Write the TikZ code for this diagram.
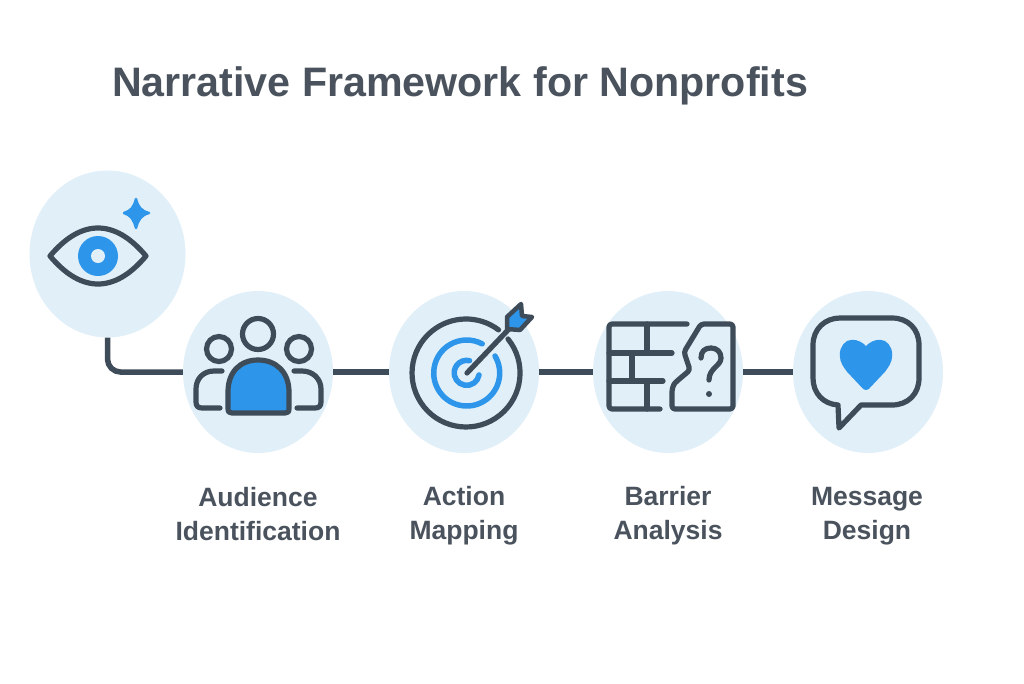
\documentclass[tikz,border=0pt]{standalone}
\usepackage{fontspec}
\setmainfont{Liberation Sans}
\definecolor{discfill}{HTML}{E1EFF8}
\definecolor{inkline}{HTML}{3E4B59}
\definecolor{accent}{HTML}{2E96EA}
\definecolor{labelink}{HTML}{4A535D}
\tikzset{
  disc/.style={ellipse,fill=discfill,inner sep=0pt,minimum width=150pt,minimum height=162pt},
  link/.style={draw=inkline,line width=5.5pt},
  icon/.style={draw=inkline,line width=5.2pt,line join=round,line cap=round},
  ring/.style={draw=accent,line width=5.5pt,line cap=round},
  blob/.style={fill=accent,draw=accent,line width=2.5pt,line join=round},
  steplabel/.style={text=labelink,font=\fontsize{26.5}{34}\selectfont\bfseries,align=center,inner sep=0pt}
}
\usetikzlibrary{shapes.geometric}
\begin{document}
\begin{tikzpicture}[x=1pt,y=-1pt]
  \useasboundingbox (0,0) rectangle (1024,683);
  \node[text=labelink,font=\fontsize{41.2}{46}\selectfont\bfseries,inner sep=0pt] (title) at (460,86) {Narrative Framework for Nonprofits};
  \node[disc,minimum width=156pt,minimum height=167pt] (eye) at (107.5,254) {};
  \node[disc] (aud) at (258,372) {};
  \node[disc] (act) at (464,372) {};
  \node[disc] (bar) at (668,372) {};
  \node[disc] (msg) at (868,372) {};
  \draw[link,rounded corners=13pt] (eye.south) |- (aud.west);
  \draw[link] (aud) -- (act);
  \draw[link] (act) -- (bar);
  \draw[link] (bar) -- (msg);
  % eye
  \draw[icon] (50,256) .. controls (66,237) and (82,228) .. (98,228) .. controls (114,228) and (130,237) .. (146,256) .. controls (130,275) and (114,284) .. (98,284) .. controls (82,284) and (66,275) .. (50,256) -- cycle;
  \fill[accent] (98,256) circle (20);
  \fill[discfill] (98,256) circle (7);
  \path[blob] (136,199) .. controls (138,207) and (141,211) .. (149,213) .. controls (141,215) and (138,220) .. (136,228) .. controls (134,220) and (131,215) .. (124,213) .. controls (131,211) and (134,207) .. (136,199) -- cycle;
  % people
  \draw[icon] (258,334) circle (15.5);
  \draw[icon] (219,349) circle (12.5);
  \draw[icon] (299,349) circle (12.5);
  \draw[icon,fill=accent] (228,392) .. controls (228,372) and (240,360) .. (258,360) .. controls (276,360) and (289,372) .. (289,392) -- (289,408) .. controls (289,412) and (288,413) .. (285,413) -- (232,413) .. controls (229,413) and (228,412) .. (228,408) -- cycle;
  \draw[icon] (222,371) -- (214,371) .. controls (203,371) and (196,379) .. (196,389) -- (196,402) .. controls (196,406) and (198,408) .. (202,408) -- (220,408);
  \draw[icon] (294,371) -- (302,371) .. controls (313,371) and (321,379) .. (321,389) -- (321,402) .. controls (321,406) and (319,408) .. (315,408) -- (297,408);
  % target
  \draw[icon] (508,339) arc[start angle=-39,end angle=307,radius=54];
  \draw[ring] (495,356) arc[start angle=-31,end angle=298,radius=33];
  \draw[ring] (479,375) arc[start angle=10,end angle=283,radius=12.5];
  \draw[icon] (467,373) -- (508,330);
  \draw[icon,line width=4.5pt,fill=accent] (507,317) -- (521,304) -- (522,316) -- (532,317) -- (520,330) -- (507,329) -- cycle;
  % wall
  \draw[icon,rounded corners=3pt] (687,324) -- (609,324) -- (609,409) -- (660,409);
  \draw[icon] (647,324) -- (647,353);
  \draw[icon] (609,353) -- (672,353);
  \draw[icon] (632,353) -- (632,381);
  \draw[icon] (609,381) -- (663,381);
  \draw[icon] (647,381) -- (647,409);
  \draw[icon,rounded corners=3pt] (701,324) -- (733,324) -- (733,409) -- (672,409) -- (672,395) .. controls (672,388) and (674,384) .. (677,381) -- (690,370) -- (684,352) -- cycle;
  \draw[icon] (701,358) .. controls (701,351) and (705,348) .. (711,348) .. controls (717,348) and (721,352) .. (721,358) .. controls (721,366) and (709,368) .. (709,380);
  \fill[inkline] (709,394) circle (3);
  % bubble
  \draw[icon] (838,405) .. controls (823,404) and (813,393) .. (813,378) -- (813,345) .. controls (813,329) and (825,318) .. (840,318) -- (892,318) .. controls (908,318) and (919,329) .. (919,345) -- (919,378) .. controls (919,394) and (908,405) .. (892,405) -- (861,405) -- (839,428) -- cycle;
  \path[blob] (866,348) .. controls (862,343) and (857,341) .. (852,341) .. controls (846,341) and (841,347) .. (841,355) .. controls (841,362) and (845,367) .. (848,371) -- (864,388) .. controls (865,389) and (867,389) .. (868,388) -- (884,371) .. controls (887,367) and (891,362) .. (891,355) .. controls (891,347) and (886,341) .. (880,341) .. controls (875,341) and (870,343) .. (866,348) -- cycle;
  % labels
  \node[steplabel] (audtext) at (258,514) {Audience\\Identification};
  \node[steplabel] (acttext) at (464,516) {Action\\Mapping};
  \node[steplabel] (bartext) at (668,516) {Barrier\\Analysis};
  \node[steplabel] (msgtext) at (867,516) {Message\\Design};
\end{tikzpicture}
\end{document}
